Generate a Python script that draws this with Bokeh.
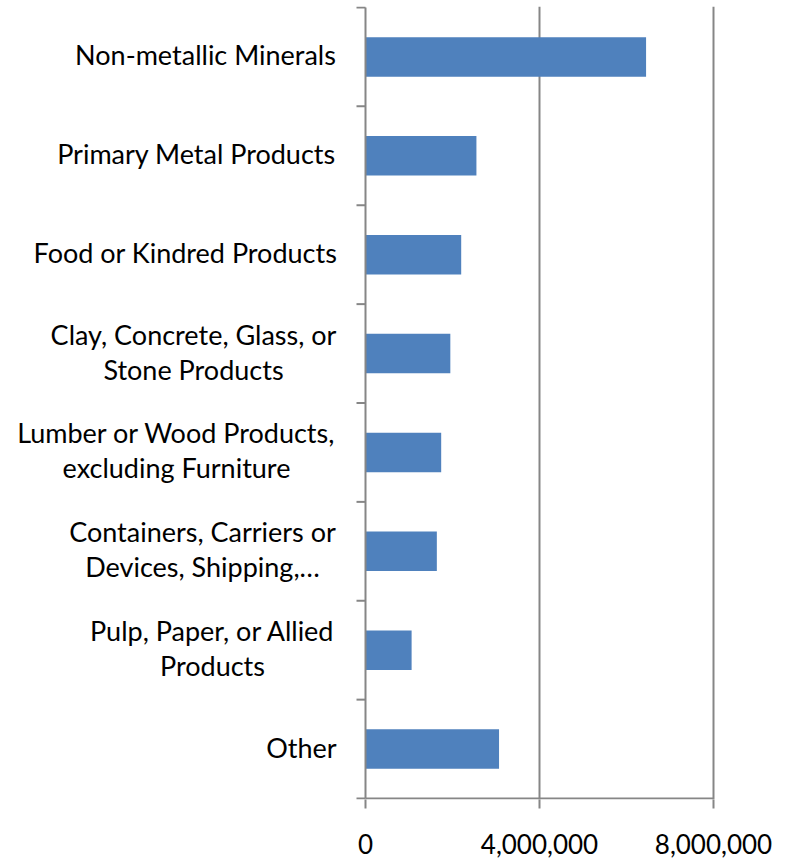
import numpy as np
from bokeh.plotting import figure
from bokeh.models import Range1d, FixedTicker, NumeralTickFormatter, LabelSet, ColumnDataSource
from bokeh.core.properties import value
from bokeh.embed import file_html
from bokeh.resources import INLINE

categories = [
    "Non-metallic Minerals",
    "Primary Metal Products",
    "Food or Kindred Products",
    "Clay, Concrete, Glass, or\nStone Products",
    "Lumber or Wood Products,\nexcluding Furniture",
    "Containers, Carriers or\nDevices, Shipping,\u2026",
    "Pulp, Paper, or Allied\nProducts",
    "Other",
]
values = [6450000, 2550000, 2200000, 1950000, 1740000, 1640000, 1060000, 3070000]
x_ticks = [0, 4000000, 8000000]

FONT = "Lato"
GRAY = "#868686"

n = len(categories)
pos = [i + 0.5 for i in range(n)]
boundaries = list(range(n + 1))

# layout (pixels): zero line at 365, last gridline at 713, plot area extends left for the labels
AXIS_PX, END_PX, FRAME_W = 365, 713, 716
px_per_unit = (END_PX - AXIS_PX) / x_ticks[-1]
x_start = -AXIS_PX / px_per_unit
x_end = (FRAME_W - AXIS_PX) / px_per_unit

H = 859
eps = 0.01
p = figure(width=780, height=H, output_backend="svg", toolbar_location=None,
           x_range=Range1d(x_start, x_end), y_range=Range1d(n + eps, -eps),
           min_border_left=0, min_border_right=780 - FRAME_W, min_border_top=6,
           min_border_bottom=H - 799)
p.outline_line_color = None
p.background_fill_color = "white"
p.yaxis.visible = False
p.ygrid.grid_line_color = None

# grid
p.xgrid.ticker = FixedTicker(ticks=x_ticks[1:])
p.xgrid.grid_line_color = GRAY
p.xgrid.grid_line_width = 2

p.hbar(y=pos, right=values, left=0, height=0.4, fill_color="#4F81BD", line_color=None)

# value axis line and category axis line with boundary ticks
p.segment(x0=[0], y0=[n], x1=[x_ticks[-1]], y1=[n], line_color=GRAY, line_width=2)
p.segment(x0=[0], y0=[0], x1=[0], y1=[n], line_color=GRAY, line_width=2)
p.ray(x=[0] * len(boundaries), y=boundaries, length=9, length_units="screen",
      angle=np.pi, line_color=GRAY, line_width=2)

# x axis (ticks + labels only)
p.xaxis.ticker = FixedTicker(ticks=x_ticks)
p.xaxis.formatter = NumeralTickFormatter(format="0,0")
p.xaxis.axis_line_color = None
p.xaxis.major_tick_line_color = GRAY
p.xaxis.major_tick_line_width = 2
p.xaxis.major_tick_in = 0
p.xaxis.major_tick_out = 9
p.xaxis.minor_tick_line_color = None
p.xaxis.major_label_text_font = FONT
p.xaxis.major_label_text_font_size = "26px"
p.xaxis.major_label_text_color = "black"
p.xaxis.major_label_standoff = 25

# category labels: each line centred on its block's centre
label_centers = [205, 196, 185, 193, 176, 202, 212, 301]
LINE_GAP = 35
lx, ly, lt, loff = [], [], [], []
for cat, yv, cx in zip(categories, pos, label_centers):
    lines = cat.split("\n")
    k = len(lines)
    for j, line in enumerate(lines):
        lx.append(cx)
        ly.append(yv)
        lt.append(line)
        loff.append(((k - 1) / 2 - j) * LINE_GAP + 2)
src = ColumnDataSource(dict(x=lx, y=ly, text=lt, off=loff))
p.add_layout(LabelSet(x="x", y="y", text="text", y_offset="off", source=src,
                      x_units="screen", y_units="data",
                      text_align="center", text_baseline="middle", text_font=value(FONT),
                      text_font_size="27px", text_color="black"))

open("out.html", "w").write(file_html(p, INLINE))
